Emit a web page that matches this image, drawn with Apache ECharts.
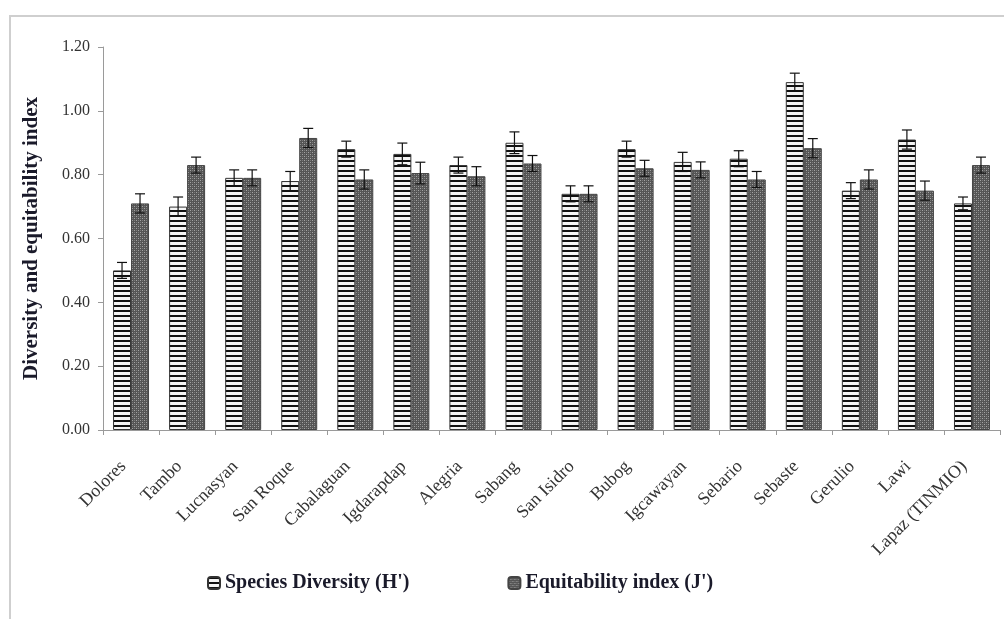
<!DOCTYPE html>
<html>
<head>
<meta charset="utf-8">
<script src="https://cdn.jsdelivr.net/npm/echarts@6/dist/echarts.min.js"></script>
<style>
  html, body { margin: 0; padding: 0; background: #fff; }
  #chart { width: 1004px; height: 619px; }
</style>
</head>
<body>
<div id="chart"></div>
<script>
// Sampling sites
const sites = ['Dolores', 'Tambo', 'Lucnasyan', 'San Roque', 'Cabalaguan', 'Igdarapdap',
  'Alegria', 'Sabang', 'San Isidro', 'Bubog', 'Igcawayan', 'Sebario', 'Sebaste',
  'Gerulio', 'Lawi', 'Lapaz (TINMIO)'];

// Shannon diversity (H') per site and its error
const diversity = [0.50, 0.70, 0.79, 0.78, 0.88, 0.865, 0.83, 0.90, 0.74, 0.88, 0.84, 0.85, 1.09, 0.75, 0.91, 0.71];
const diversityErr = [0.025, 0.03, 0.025, 0.03, 0.025, 0.034, 0.025, 0.034, 0.025, 0.025, 0.03, 0.025, 0.028, 0.025, 0.03, 0.02];

// Pielou equitability (J') per site and its error
const equitability = [0.71, 0.83, 0.79, 0.915, 0.785, 0.805, 0.795, 0.835, 0.74, 0.82, 0.815, 0.785, 0.883, 0.785, 0.75, 0.83];
const equitabilityErr = [0.03, 0.025, 0.025, 0.03, 0.03, 0.034, 0.03, 0.025, 0.025, 0.025, 0.025, 0.025, 0.03, 0.03, 0.03, 0.025];

const yTicks = { min: 0, max: 1.2, interval: 0.2 };

const FONT = 'Liberation Serif';
const BAR_W = 18;

// Horizontal black/white stripe fill
function stripePattern() {
  const c = document.createElement('canvas');
  c.width = 4; c.height = 5;
  const g = c.getContext('2d');
  g.fillStyle = '#f4f4f4'; g.fillRect(0, 0, 4, 5);
  g.fillStyle = '#111'; g.fillRect(0, 0, 4, 2);
  return c;
}
// Dark stippled fill
function dotPattern() {
  const c = document.createElement('canvas');
  c.width = 4; c.height = 4;
  const g = c.getContext('2d');
  g.fillStyle = '#555'; g.fillRect(0, 0, 4, 4);
  g.fillStyle = '#a4a4a4';
  g.fillRect(0, 0, 1, 1); g.fillRect(2, 2, 1, 1);
  g.fillStyle = '#7a7a7a';
  g.fillRect(2, 0, 1, 1); g.fillRect(0, 2, 1, 1);
  return c;
}

function errorSeries(values, errs, offset) {
  return {
    type: 'custom',
    z: 5,
    silent: true,
    data: values.map((v, i) => [i, v, errs[i]]),
    renderItem(params, api) {
      const i = api.value(0), v = api.value(1), e = api.value(2);
      const hi = api.coord([i, v + e]);
      const lo = api.coord([i, v - e]);
      const x = hi[0] + offset;
      const cap = 5;
      const style = { stroke: '#111', lineWidth: 1.2 };
      return {
        type: 'group',
        children: [
          { type: 'line', shape: { x1: x, y1: hi[1], x2: x, y2: lo[1] }, style },
          { type: 'line', shape: { x1: x - cap, y1: hi[1], x2: x + cap, y2: hi[1] }, style },
          { type: 'line', shape: { x1: x - cap, y1: lo[1], x2: x + cap, y2: lo[1] }, style }
        ]
      };
    }
  };
}

const chart = echarts.init(document.getElementById('chart'), null, { renderer: 'canvas' });

chart.setOption({
  backgroundColor: '#fff',
  animation: false,
  graphic: [{
    type: 'rect',
    shape: { x: 10, y: 16, width: 1100, height: 700 },
    style: { fill: 'none', stroke: '#cfcfcf', lineWidth: 2 },
    silent: true,
    z: -1
  }],
  grid: { left: 103, right: 4, top: 47, bottom: 189 },
  legend: {
    data: ["Species Diversity (H')", "Equitability index (J')"],
    left: 202,
    top: 568,
    itemWidth: 12,
    itemHeight: 12,
    itemGap: 98,
    textStyle: { fontFamily: FONT, fontWeight: 'bold', fontSize: 20, color: '#1a1a2a' }
  },
  xAxis: {
    type: 'category',
    data: sites,
    axisLine: { lineStyle: { color: '#9a9a9a', width: 1 } },
    axisTick: { show: true, alignWithLabel: false, length: 5, lineStyle: { color: '#9a9a9a' } },
    axisLabel: {
      rotate: 45,
      interval: 0,
      margin: 26,
      padding: [0, 11, 14, 0],
      fontFamily: FONT,
      fontSize: 18,
      color: '#333'
    }
  },
  yAxis: {
    type: 'value',
    min: yTicks.min,
    max: yTicks.max,
    interval: yTicks.interval,
    name: 'Diversity and equitability index',
    nameLocation: 'middle',
    nameGap: 61,
    nameTextStyle: { fontFamily: FONT, fontWeight: 'bold', fontSize: 21, color: '#1a1a2a' },
    axisLine: { show: true, lineStyle: { color: '#9a9a9a', width: 1 } },
    axisTick: { show: true, length: 5, lineStyle: { color: '#9a9a9a' } },
    splitLine: { show: false },
    axisLabel: {
      margin: 13,
      fontFamily: FONT,
      fontSize: 16,
      color: '#333',
      formatter: v => v.toFixed(2)
    }
  },
  series: [
    {
      name: "Species Diversity (H')",
      type: 'bar',
      data: diversity,
      barWidth: BAR_W,
      barGap: '0%',
      itemStyle: {
        color: { image: stripePattern(), repeat: 'repeat' },
        borderColor: '#333',
        borderWidth: 1
      }
    },
    {
      name: "Equitability index (J')",
      type: 'bar',
      data: equitability,
      barWidth: BAR_W,
      barGap: '0%',
      itemStyle: {
        color: { image: dotPattern(), repeat: 'repeat' },
        borderColor: '#444',
        borderWidth: 1
      }
    },
    errorSeries(diversity, diversityErr, -BAR_W / 2),
    errorSeries(equitability, equitabilityErr, BAR_W / 2)
  ]
});
</script>
</body>
</html>
